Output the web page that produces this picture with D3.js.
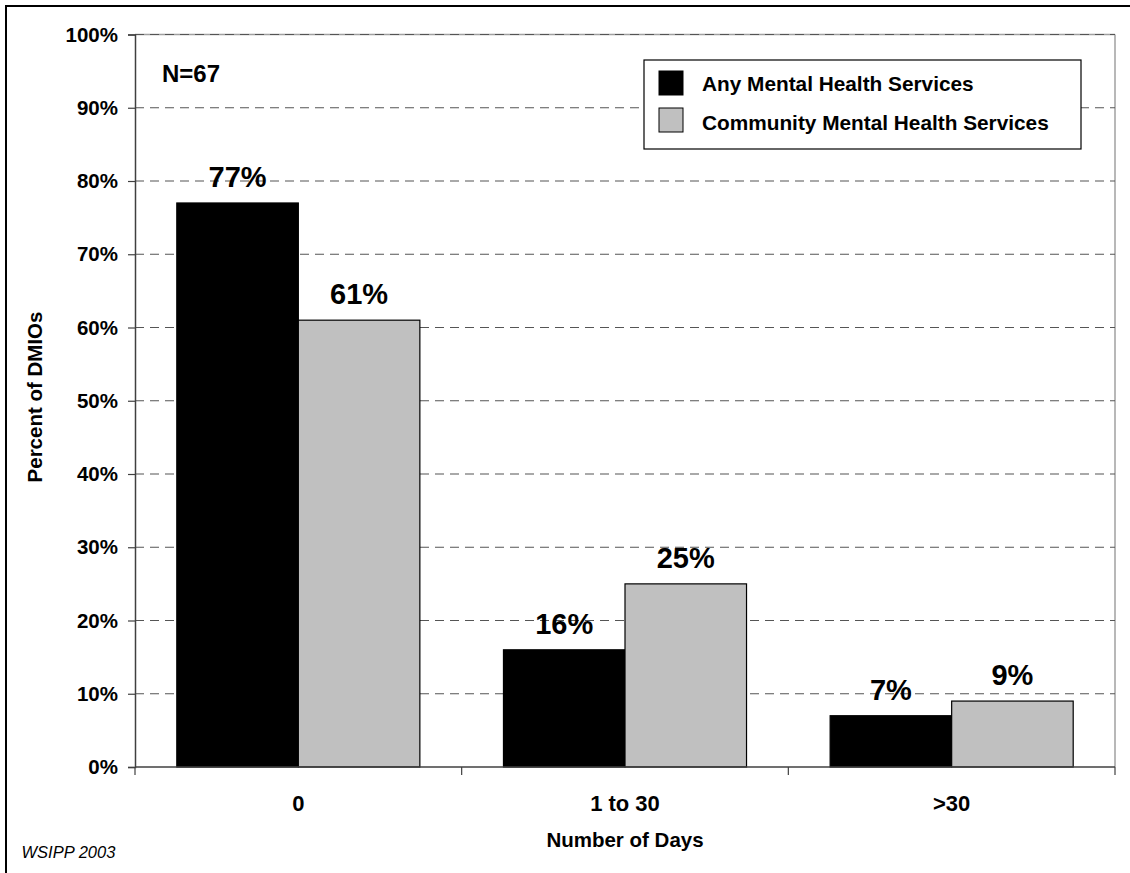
<!DOCTYPE html>
<html>
<head>
<meta charset="utf-8">
<script src="https://cdn.jsdelivr.net/npm/d3@7"></script>
<style>
  html, body { margin: 0; padding: 0; background: #fff; }
  svg { display: block; }
  text { font-family: Arial, "Liberation Sans", sans-serif; }
</style>
</head>
<body>
<svg id="chart" width="1130" height="873"></svg>
<script>
const categories = ["0", "1 to 30", ">30"];
const seriesNames = ["Any Mental Health Services", "Community Mental Health Services"];
const anyMH = [77, 16, 7];
const communityMH = [61, 25, 9];
const yTicks = [0, 10, 20, 30, 40, 50, 60, 70, 80, 90, 100];
const seriesColors = ["#000000", "#c0c0c0"];

const svg = d3.select("#chart");
const W = 1130, H = 873;
const plot = { left: 135, right: 1115, top: 34.5, bottom: 767 };

// outer frame (left & top visible)
svg.append("rect").attr("x", 6).attr("y", 6).attr("width", W + 10).attr("height", H + 10)
  .attr("fill", "#fff").attr("stroke", "#000").attr("stroke-width", 2);

const y = d3.scaleLinear().domain([0, 100]).range([plot.bottom, plot.top]);
const x0 = d3.scaleBand().domain(categories).range([plot.left, plot.right]).paddingInner(0).paddingOuter(0);
const x1 = d3.scaleBand().domain(seriesNames).range([0, x0.bandwidth()]).paddingInner(0).paddingOuter(0.344);

// plot area border top/right (gray)
svg.append("line").attr("x1", plot.left).attr("x2", plot.right).attr("y1", plot.top).attr("y2", plot.top)
  .attr("stroke", "#a0a0a0").attr("stroke-width", 1.5);
svg.append("line").attr("x1", plot.right).attr("x2", plot.right).attr("y1", plot.top).attr("y2", plot.bottom)
  .attr("stroke", "#a0a0a0").attr("stroke-width", 1.5);

// gridlines
svg.append("g").selectAll("line").data(yTicks.filter(d => d > 0)).join("line")
  .attr("x1", plot.left).attr("x2", plot.right)
  .attr("y1", d => y(d)).attr("y2", d => y(d))
  .attr("stroke", "#555555").attr("stroke-width", 1.2).attr("stroke-dasharray", "9,6");

// bars
const data = categories.map((c, i) => ({ cat: c, values: [anyMH[i], communityMH[i]] }));
const groups = svg.append("g").selectAll("g").data(data).join("g")
  .attr("transform", d => `translate(${x0(d.cat)},0)`);
groups.selectAll("rect").data(d => d.values.map((v, j) => ({ v, s: seriesNames[j], j }))).join("rect")
  .attr("x", d => x1(d.s)).attr("width", x1.bandwidth())
  .attr("y", d => y(d.v)).attr("height", d => y(0) - y(d.v))
  .attr("fill", d => seriesColors[d.j]).attr("stroke", "#000").attr("stroke-width", 1.2);
groups.selectAll("text").data(d => d.values.map((v, j) => ({ v, s: seriesNames[j], j }))).join("text")
  .attr("x", d => x1(d.s) + x1.bandwidth() / 2).attr("y", d => y(d.v) - 16)
  .attr("text-anchor", "middle").attr("font-size", 29).attr("font-weight", "bold").attr("fill", "#000")
  .text(d => d.v + "%");

// y axis
const yAxis = d3.axisLeft(y).tickValues(yTicks).tickFormat(d => d + "%").tickSize(7).tickPadding(10);
const gy = svg.append("g").attr("transform", `translate(${plot.left},0)`).call(yAxis);
gy.select(".domain").attr("stroke", "#404040").attr("stroke-width", 1.5);
gy.selectAll(".tick line").attr("stroke", "#404040").attr("stroke-width", 1.2);
gy.selectAll(".tick text").attr("font-size", 20.5).attr("font-weight", "bold").attr("fill", "#000")
  .attr("font-family", "Arial, 'Liberation Sans', sans-serif");

// x axis
svg.append("line").attr("x1", plot.left).attr("x2", plot.right).attr("y1", plot.bottom).attr("y2", plot.bottom)
  .attr("stroke", "#404040").attr("stroke-width", 1.5);
const boundaries = categories.map(c => x0(c)).concat([x0(categories[categories.length - 1]) + x0.bandwidth()]);
svg.append("g").selectAll("line").data(boundaries).join("line")
  .attr("x1", d => d).attr("x2", d => d).attr("y1", plot.bottom).attr("y2", plot.bottom + 8)
  .attr("stroke", "#404040").attr("stroke-width", 1.2);
svg.append("g").selectAll("text").data(categories).join("text")
  .attr("x", d => x0(d) + x0.bandwidth() / 2).attr("y", 810.5)
  .attr("text-anchor", "middle").attr("font-size", 22).attr("font-weight", "bold").text(d => d);

// axis titles
svg.append("text").attr("x", (plot.left + plot.right) / 2).attr("y", 847)
  .attr("text-anchor", "middle").attr("font-size", 20.5).attr("font-weight", "bold").text("Number of Days");
svg.append("text").attr("transform", "translate(41.5,397) rotate(-90)")
  .attr("text-anchor", "middle").attr("font-size", 20.5).attr("font-weight", "bold").text("Percent of DMIOs");

// N label
svg.append("text").attr("x", 162).attr("y", 82).attr("font-size", 24).attr("font-weight", "bold").text("N=67");

// source
svg.append("text").attr("x", 21.5).attr("y", 857.5).attr("font-size", 16.5).attr("font-style", "italic").text("WSIPP 2003");

// legend
const lg = svg.append("g");
lg.append("rect").attr("x", 644).attr("y", 60).attr("width", 437).attr("height", 89)
  .attr("fill", "#fff").attr("stroke", "#000").attr("stroke-width", 1.2);
const swY = [71, 108], txY = [91, 130];
seriesNames.forEach((s, i) => {
  lg.append("rect").attr("x", 659).attr("y", swY[i]).attr("width", 24).attr("height", 24)
    .attr("fill", seriesColors[i]).attr("stroke", "#000").attr("stroke-width", 1);
  lg.append("text").attr("x", 702).attr("y", txY[i]).attr("font-size", 20.8).attr("font-weight", "bold").text(s);
});
</script>
</body>
</html>
